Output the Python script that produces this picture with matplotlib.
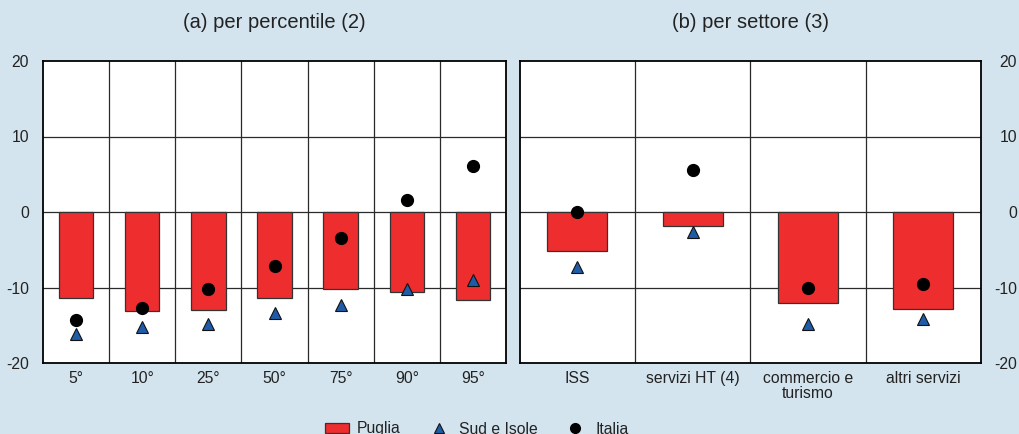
import matplotlib
matplotlib.use("Agg")
import matplotlib.pyplot as plt
from matplotlib.lines import Line2D
from matplotlib.patches import Patch

plt.rcParams['font.family'] = ['Liberation Sans', 'DejaVu Sans']
plt.rcParams['axes.unicode_minus'] = False

# ---- data ----
perc_labels = ["5°", "10°", "25°", "50°", "75°", "90°", "95°"]
perc_puglia = [-11.4, -13.1, -13.0, -11.4, -10.2, -10.6, -11.7]
perc_sud = [-16.1, -15.2, -14.9, -13.4, -12.3, -10.2, -9.0]
perc_italia = [-14.3, -12.7, -10.2, -7.1, -3.5, 1.6, 6.1]

sect_labels = ["ISS", "servizi HT (4)", "commercio e\nturismo", "altri servizi"]
sect_puglia = [-5.2, -1.9, -12.0, -12.8]
sect_sud = [-7.3, -2.7, -14.9, -14.2]
sect_italia = [0.0, 5.5, -10.0, -9.6]

titles = ["(a) per percentile (2)", "(b) per settore (3)"]
yticks = [-20, -10, 0, 10, 20]

BG = "#d3e4ee"
RED = "#ee2d2e"
BLUE = "#1e5ca8"
GRID = "#2a2a2a"

fig = plt.figure(figsize=(10.19, 4.34), dpi=100, facecolor=BG)
W, H = 1019, 434
ax1 = fig.add_axes([43 / W, 1 - 363 / H, 463 / W, 302 / H])
ax2 = fig.add_axes([519.5 / W, 1 - 363 / H, 461.5 / W, 302 / H])


def draw(ax, labels, pug, sud, ita, side):
    n = len(labels)
    x = list(range(n))
    ax.set_facecolor("white")
    ax.bar(x, pug, width=0.52, color=RED, edgecolor="#333333", linewidth=0.9, zorder=3)
    ax.plot(x, sud, linestyle="none", marker="^", ms=8.5, mfc=BLUE, mec="#111111",
            mew=0.8, zorder=5)
    ax.plot(x, ita, linestyle="none", marker="o", ms=8.5, mfc="black", mec="black",
            zorder=5)
    ax.set_xlim(-0.5, n - 0.5)
    ax.set_ylim(-20, 20)
    ax.set_yticks(yticks)
    for yv in [-10, 0, 10]:
        ax.axhline(yv, color=GRID, lw=0.9, zorder=2)
    for xv in range(1, n):
        ax.axvline(xv - 0.5, color=GRID, lw=0.9, zorder=2)
    ax.set_xticks(x)
    ax.set_xticklabels(labels, fontsize=11.3, color="#222222", linespacing=1.0)
    ax.tick_params(axis="x", length=0, pad=5.5)
    for s in ax.spines.values():
        s.set_color("black")
        s.set_linewidth(1.3)
        s.set_zorder(6)
    if side == "left":
        ax.tick_params(axis="y", length=0, pad=10, labelsize=11.3, labelcolor="#222222")
    else:
        ax.yaxis.tick_right()
        ax.tick_params(axis="y", length=0, pad=26, labelsize=11.3, labelcolor="#222222")
        for t in ax.get_yticklabels():
            t.set_horizontalalignment("right")


draw(ax1, perc_labels, perc_puglia, perc_sud, perc_italia, "left")
draw(ax2, sect_labels, sect_puglia, sect_sud, sect_italia, "right")

fig.text(274.5 / W, 1 - 22 / H, titles[0], ha="center", va="center", fontsize=14.5,
         color="#222222")
fig.text(750 / W, 1 - 22 / H, titles[1], ha="center", va="center", fontsize=14.5,
         color="#222222")

handles = [
    Patch(facecolor=RED, edgecolor="#333333", linewidth=0.9),
    Line2D([], [], linestyle="none", marker="^", ms=7, mfc=BLUE, mec="#111111", mew=0.8),
    Line2D([], [], linestyle="none", marker="o", ms=7, mfc="black", mec="black"),
]
fig.legend(handles, ["Puglia", "Sud e Isole", "Italia"], loc="center",
           bbox_to_anchor=(477 / W, 1 - 429 / H), ncol=3, frameon=False,
           fontsize=11.3, handlelength=1.5, handleheight=0.6, columnspacing=1.65,
           handletextpad=0.55, labelcolor="#222222")

fig.savefig("out.png", dpi=100, facecolor=BG)
